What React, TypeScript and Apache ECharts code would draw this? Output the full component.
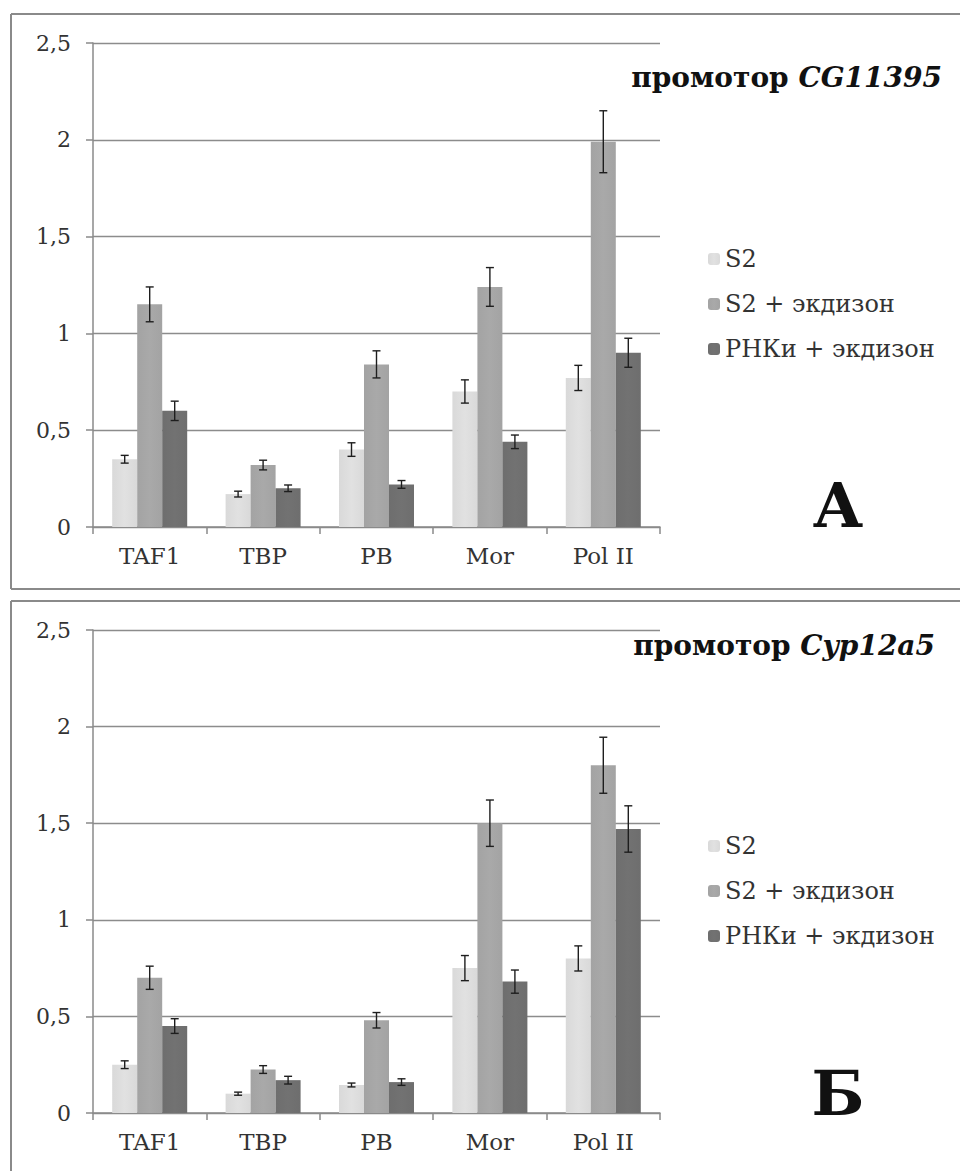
import React, { useEffect, useRef } from "react";
import * as echarts from "echarts";

const categories = ["TAF1", "TBP", "PB", "Mor", "Pol II"];
const seriesNames = ["S2", "S2 + экдизон", "РНКи + экдизон"];
const yTicks = [0, 0.5, 1, 1.5, 2, 2.5];

// Panel A: promoter CG11395
const topS2 = [0.35, 0.17, 0.4, 0.7, 0.77];
const topS2Err = [0.02, 0.015, 0.035, 0.06, 0.065];
const topS2E = [1.15, 0.32, 0.84, 1.24, 1.99];
const topS2EErr = [0.09, 0.025, 0.07, 0.1, 0.16];
const topRnai = [0.6, 0.2, 0.22, 0.44, 0.9];
const topRnaiErr = [0.05, 0.017, 0.02, 0.035, 0.075];

// Panel Б: promoter Cyp12a5
const botS2 = [0.25, 0.1, 0.145, 0.75, 0.8];
const botS2Err = [0.02, 0.008, 0.01, 0.065, 0.065];
const botS2E = [0.7, 0.225, 0.48, 1.5, 1.8];
const botS2EErr = [0.06, 0.02, 0.04, 0.12, 0.145];
const botRnai = [0.45, 0.17, 0.16, 0.68, 1.47];
const botRnaiErr = [0.038, 0.02, 0.017, 0.06, 0.12];

const colors = ["#d9d9d9", "#a3a3a3", "#6e6e6e"];
const FONT = "DejaVu Serif";
const BAR_W = 25;

function barColor(c: string) {
  return new echarts.graphic.LinearGradient(0, 0, 1, 0, [
    { offset: 0, color: c },
    { offset: 0.5, color: echarts.color.lift(c, -0.04) as string },
    { offset: 1, color: c },
  ]);
}

export default function App() {
  const ref = useRef<HTMLDivElement>(null);
  useEffect(() => {
    if (!ref.current) return;
    const chart = echarts.init(ref.current, undefined, { renderer: "svg" });

    const panels = [
      { vals: [topS2, topS2E, topRnai], errs: [topS2Err, topS2EErr, topRnaiErr] },
      { vals: [botS2, botS2E, botRnai], errs: [botS2Err, botS2EErr, botRnaiErr] },
    ];

    const grids = [
      { left: 93, width: 567, top: 43, height: 484 },
      { left: 93, width: 567, top: 630, height: 483 },
    ];

    const xAxes = grids.map((_, i) => ({
      type: "category",
      gridIndex: i,
      data: categories,
      axisLine: { lineStyle: { color: "#8a8a8a", width: 1.5 } },
      axisTick: { show: true, length: 7, lineStyle: { color: "#8a8a8a", width: 1.5 } },
      axisLabel: { fontFamily: FONT, fontSize: 23, color: "#333", margin: 17 },
    }));
    const yAxes = grids.map((_, i) => ({
      type: "value",
      gridIndex: i,
      min: yTicks[0],
      max: yTicks[yTicks.length - 1],
      interval: 0.5,
      axisLine: { show: true, lineStyle: { color: "#8a8a8a", width: 1.5 } },
      axisTick: { show: true, length: 7, lineStyle: { color: "#8a8a8a", width: 1.5 } },
      splitLine: { lineStyle: { color: "#8c8c8c", width: 1.3 } },
      axisLabel: {
        fontFamily: FONT,
        fontSize: 22,
        color: "#333",
        margin: 22,
        formatter: (v: number) => String(v).replace(".", ","),
      },
    }));

    const series: any[] = [];
    panels.forEach((p, pi) => {
      p.vals.forEach((vals, si) => {
        series.push({
          type: "bar",
          name: seriesNames[si],
          xAxisIndex: pi,
          yAxisIndex: pi,
          data: vals,
          barWidth: BAR_W,
          barGap: "0%",
          itemStyle: { color: barColor(colors[si]) },
          z: 2,
        });
      });
      p.vals.forEach((vals, si) => {
        const data = vals.map((v, ci) => [ci, v, p.errs[si][ci]]);
        series.push({
          type: "custom",
          xAxisIndex: pi,
          yAxisIndex: pi,
          data,
          z: 5,
          silent: true,
          encode: { x: 0, y: 1 },
          renderItem: (params: any, api: any) => {
            const ci = api.value(0);
            const v = api.value(1);
            const e = api.value(2);
            const off = (si - 1) * BAR_W;
            const hi = api.coord([ci, v + e]);
            const lo = api.coord([ci, v - e]);
            const x = hi[0] + off;
            const cap = 4;
            const st = { stroke: "#1e1e1e", lineWidth: 1.4 };
            return {
              type: "group",
              children: [
                { type: "line", shape: { x1: x, y1: hi[1], x2: x, y2: lo[1] }, style: st },
                { type: "line", shape: { x1: x - cap, y1: hi[1], x2: x + cap, y2: hi[1] }, style: st },
                { type: "line", shape: { x1: x - cap, y1: lo[1], x2: x + cap, y2: lo[1] }, style: st },
              ],
            };
          },
        });
      });
    });

    const legendCommon = {
      orient: "vertical",
      left: 703,
      itemWidth: 12,
      itemHeight: 12,
      itemGap: 21,
      data: seriesNames,
      selectedMode: false,
      textStyle: { fontFamily: FONT, fontSize: 24, color: "#333" },
    };

    const lineStyle = { stroke: "#8a8a8a", lineWidth: 2 };
    const titleRich = {
      a: { fontFamily: FONT, fontWeight: "bold", fontSize: 28, fill: "#111" },
      b: { fontFamily: FONT, fontWeight: "bold", fontStyle: "italic", fontSize: 28, fill: "#111" },
    };

    chart.setOption({
      animation: false,
      backgroundColor: "#ffffff",
      grid: grids,
      xAxis: xAxes,
      yAxis: yAxes,
      legend: [
        { ...legendCommon, top: 242 },
        { ...legendCommon, top: 829 },
      ],
      series,
      graphic: [
        // panel A frame
        { type: "line", shape: { x1: 11, y1: 14, x2: 960, y2: 14 }, style: lineStyle },
        { type: "line", shape: { x1: 11, y1: 589, x2: 960, y2: 589 }, style: lineStyle },
        { type: "line", shape: { x1: 11, y1: 14, x2: 11, y2: 589 }, style: lineStyle },
        // panel Б frame
        { type: "line", shape: { x1: 11, y1: 601, x2: 960, y2: 601 }, style: lineStyle },
        { type: "line", shape: { x1: 11, y1: 601, x2: 11, y2: 1171 }, style: lineStyle },
        {
          type: "text",
          x: 942,
          y: 77,
          style: {
            text: "{a|промотор }{b|CG11395}",
            rich: titleRich,
            align: "right",
            verticalAlign: "middle",
          },
        },
        {
          type: "text",
          x: 935,
          y: 645,
          style: {
            text: "{a|промотор }{b|Cyp12a5}",
            rich: titleRich,
            align: "right",
            verticalAlign: "middle",
          },
        },
        {
          type: "text",
          x: 838,
          y: 505,
          style: {
            text: "А",
            fontFamily: FONT,
            fontWeight: "bold",
            fontSize: 62,
            fill: "#111",
            align: "center",
            verticalAlign: "middle",
          },
        },
        {
          type: "text",
          x: 838,
          y: 1093,
          style: {
            text: "Б",
            fontFamily: FONT,
            fontWeight: "bold",
            fontSize: 62,
            fill: "#111",
            align: "center",
            verticalAlign: "middle",
          },
        },
      ],
    });
    return () => chart.dispose();
  }, []);

  return (
    <div
      ref={ref}
      style={{ position: "absolute", left: 0, top: 0, width: 960, height: 1171, background: "#fff" }}
    />
  );
}
